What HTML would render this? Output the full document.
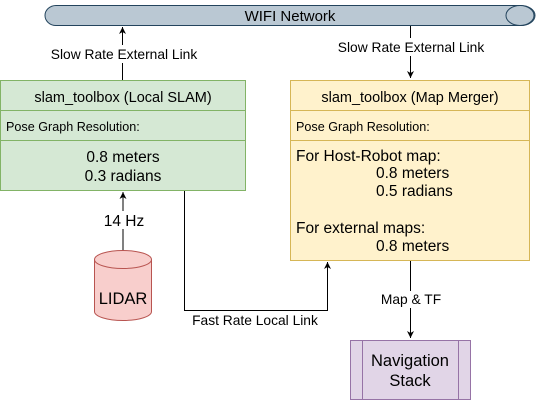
<!DOCTYPE html>
<html><head><meta charset="utf-8"><style>
html,body{margin:0;padding:0;background:#fff;}
svg{display:block;font-family:"Liberation Sans",sans-serif;}
</style></head><body>
<svg width="536" height="401" viewBox="0 0 536 401" xmlns="http://www.w3.org/2000/svg">
<defs><marker id="a" markerWidth="8" markerHeight="8" refX="7" refY="4" orient="auto" markerUnits="userSpaceOnUse"><path d="M0,0.5 L7,4 L0,7.5 L2,4 Z" fill="#000"/></marker></defs>
<!-- WIFI -->
<path d="M56,5.5 H521 A14,10 0 0 1 521,25.5 H56 A11,10 0 0 1 56,5.5 Z" fill="#bac8d3" stroke="#23445d"/>
<ellipse cx="520" cy="15.5" rx="14" ry="10" fill="#bac8d3" stroke="#23445d"/>
<text x="290" y="21" font-size="15" text-anchor="middle" fill="#000">WIFI Network</text>
<!-- connectors -->
<line x1="122.5" y1="80" x2="122.5" y2="27" stroke="#000" marker-end="url(#a)"/>
<rect x="47" y="45" width="154" height="18" fill="#fff"/>
<text x="124" y="59" font-size="13.8" text-anchor="middle">Slow Rate External Link</text>
<line x1="410.5" y1="26" x2="410.5" y2="78" stroke="#000" marker-end="url(#a)"/>
<rect x="334" y="38" width="154" height="18" fill="#fff"/>
<text x="411" y="52" font-size="13.8" text-anchor="middle">Slow Rate External Link</text>
<line x1="123" y1="250" x2="123" y2="192" stroke="#000" marker-end="url(#a)"/>
<rect x="100" y="211" width="46" height="18" fill="#fff"/>
<text x="124" y="226" font-size="15.5" text-anchor="middle">14 Hz</text>
<polyline points="184.5,191 184.5,310.5 327.5,310.5 327.5,262" fill="none" stroke="#000" marker-end="url(#a)"/>
<text x="255" y="325" font-size="13.8" text-anchor="middle">Fast Rate Local Link</text>
<line x1="410.5" y1="260" x2="410.5" y2="338" stroke="#000" marker-end="url(#a)"/>
<rect x="378" y="291" width="66" height="17" fill="#fff"/>
<text x="411" y="304" font-size="13.8" text-anchor="middle">Map &amp; TF</text>
<!-- green box -->
<rect x="0.5" y="80.5" width="245" height="110" fill="#d5e8d4" stroke="#82b366"/>
<line x1="0" y1="110.5" x2="246" y2="110.5" stroke="#82b366"/>
<line x1="0" y1="140.5" x2="246" y2="140.5" stroke="#82b366"/>
<text x="123" y="102" font-size="14.5" text-anchor="middle">slam_toolbox (Local SLAM)</text>
<text x="6" y="131" font-size="12.6">Pose Graph Resolution:</text>
<text x="123" y="162" font-size="15.5" text-anchor="middle">0.8 meters</text>
<text x="123" y="181" font-size="15.5" text-anchor="middle">0.3 radians</text>
<!-- yellow box -->
<rect x="290.5" y="80.5" width="239" height="180" fill="#fff2cc" stroke="#d6b656"/>
<line x1="290" y1="110.5" x2="530" y2="110.5" stroke="#d6b656"/>
<line x1="290" y1="140.5" x2="530" y2="140.5" stroke="#d6b656"/>
<text x="410" y="102" font-size="14.5" text-anchor="middle">slam_toolbox (Map Merger)</text>
<text x="296" y="131" font-size="12.6">Pose Graph Resolution:</text>
<text x="296" y="161" font-size="15.5">For Host-Robot map:</text>
<text x="376" y="178" font-size="15.5">0.8 meters</text>
<text x="376" y="196" font-size="15.5">0.5 radians</text>
<text x="296" y="233" font-size="15.5">For external maps:</text>
<text x="376" y="251" font-size="15.5">0.8 meters</text>
<!-- LIDAR -->
<path d="M94.5,259.5 A28.5,9 0 0 1 151.5,259.5 V311.5 A28.5,9 0 0 1 94.5,311.5 Z" fill="#f8cecc" stroke="#b85450"/>
<path d="M94.5,259.5 A28.5,9 0 0 0 151.5,259.5" fill="none" stroke="#b85450"/>
<text x="123" y="304" font-size="16.5" text-anchor="middle">LIDAR</text>
<!-- Nav -->
<rect x="350.5" y="340.5" width="120" height="59" fill="#e1d5e7" stroke="#9673a6"/>
<line x1="362.5" y1="340" x2="362.5" y2="400" stroke="#9673a6"/>
<line x1="458.5" y1="340" x2="458.5" y2="400" stroke="#9673a6"/>
<text x="410" y="366" font-size="16.5" text-anchor="middle">Navigation</text>
<text x="410" y="386" font-size="16.5" text-anchor="middle">Stack</text>
</svg>
</body></html>
